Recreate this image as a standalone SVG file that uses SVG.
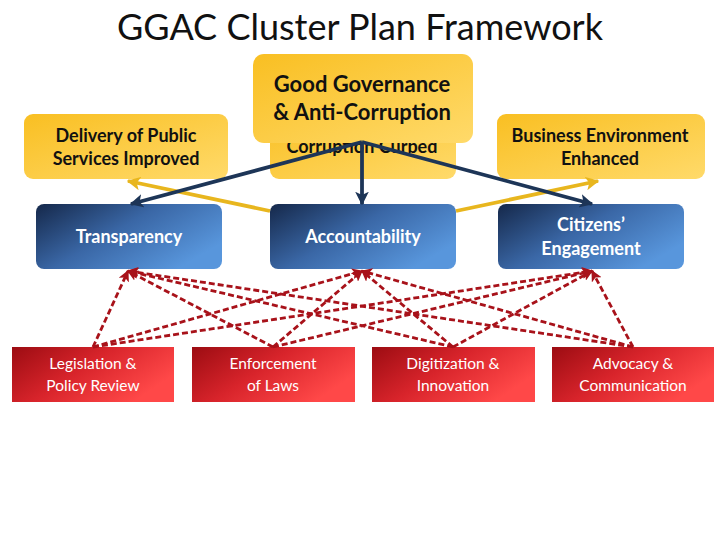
<svg xmlns="http://www.w3.org/2000/svg" width="720" height="540" viewBox="0 0 720 540">
<defs>
<linearGradient id="gy" x1="0" y1="0" x2="1" y2="1">
<stop offset="0" stop-color="#f9bf22"/>
<stop offset="1" stop-color="#ffda6a"/>
</linearGradient>
<linearGradient id="gb" x1="0" y1="0" x2="1" y2="0.6">
<stop offset="0" stop-color="#15284a"/>
<stop offset="0.5" stop-color="#3a67a6"/>
<stop offset="1" stop-color="#5896dc"/>
</linearGradient>
<linearGradient id="gr" x1="0" y1="0" x2="1" y2="0.5">
<stop offset="0" stop-color="#9c0c12"/>
<stop offset="0.5" stop-color="#d8242b"/>
<stop offset="1" stop-color="#ff4848"/>
</linearGradient>
<marker id="an" viewBox="0 0 10 10" refX="9" refY="5" markerWidth="3.6" markerHeight="3.6" orient="auto" markerUnits="strokeWidth">
<path d="M0,0 L10,5 L0,10 L2.5,5 z" fill="#1d3557"/>
</marker>
<marker id="ay" viewBox="0 0 10 10" refX="9" refY="5" markerWidth="3.6" markerHeight="3.6" orient="auto" markerUnits="strokeWidth">
<path d="M0,0 L10,5 L0,10 L2.5,5 z" fill="#e8b61e"/>
</marker>
<marker id="ar" viewBox="0 0 10 10" refX="9" refY="5" markerWidth="4" markerHeight="4" orient="auto" markerUnits="strokeWidth">
<path d="M0,0 L10,5 L0,10 L2.5,5 z" fill="#a8121a"/>
</marker>
</defs>
<style>
text{font-family:Lato,"Liberation Sans",sans-serif;text-anchor:middle}
.title{font-size:36px;fill:#111}
.yt{font-size:18px;font-weight:bold;fill:#111}
.gt{font-size:22px;font-weight:bold;fill:#111}
.bt{font-size:18px;font-weight:bold;fill:#fff}
.rt{font-size:15.5px;fill:#fff}
.ybox{fill:url(#gy)}
.bbox{fill:url(#gb)}
.rbox{fill:url(#gr)}
.navy{stroke:#1d3557;stroke-width:3.8;fill:none;marker-end:url(#an)}
.yel{stroke:#e8b61e;stroke-width:3.8;fill:none;marker-end:url(#ay)}
.red{stroke:#a8121a;stroke-width:2.8;fill:none;stroke-dasharray:6 3;marker-end:url(#ar)}
</style>
<rect width="720" height="540" fill="#fff"/>
<text class="title" x="360" y="40">GGAC Cluster Plan Framework</text>

<g id="node-delivery">
<rect class="ybox" x="24" y="114" width="204" height="65" rx="9"/>
<text class="yt" x="126" y="142">Delivery of Public</text>
<text class="yt" x="126" y="165">Services Improved</text>
</g>
<g id="node-business">
<rect class="ybox" x="497" y="114" width="208" height="65" rx="9"/>
<text class="yt" x="600" y="142">Business Environment</text>
<text class="yt" x="600" y="165">Enhanced</text>
</g>
<g id="node-corruption">
<rect class="ybox" x="270" y="110" width="186" height="69" rx="9"/>
<text class="yt" x="362" y="153">Corruption Curbed</text>
</g>
<g id="node-ggac">
<rect class="ybox" x="253" y="54" width="220" height="89" rx="11"/>
<text class="gt" x="362" y="92">Good Governance</text>
<text class="gt" x="362" y="120">&amp; Anti-Corruption</text>
</g>

<g id="node-transparency">
<rect class="bbox" x="36" y="204" width="186" height="65" rx="8"/>
<text class="bt" x="129" y="243">Transparency</text>
</g>
<g id="node-accountability">
<rect class="bbox" x="270" y="204" width="186" height="65" rx="8"/>
<text class="bt" x="363" y="243">Accountability</text>
</g>
<g id="node-citizens">
<rect class="bbox" x="498" y="204" width="186" height="65" rx="8"/>
<text class="bt" x="591" y="231">Citizens’</text>
<text class="bt" x="591" y="255">Engagement</text>
</g>

<g id="node-legislation">
<rect class="rbox" x="12" y="347" width="162" height="55"/>
<text class="rt" x="93" y="369">Legislation &amp;</text>
<text class="rt" x="93" y="391">Policy Review</text>
</g>
<g id="node-enforcement">
<rect class="rbox" x="192" y="347" width="163" height="55"/>
<text class="rt" x="273" y="369">Enforcement</text>
<text class="rt" x="273" y="391">of Laws</text>
</g>
<g id="node-digitization">
<rect class="rbox" x="372" y="347" width="163" height="55"/>
<text class="rt" x="453" y="369">Digitization &amp;</text>
<text class="rt" x="453" y="391">Innovation</text>
</g>
<g id="node-advocacy">
<rect class="rbox" x="552" y="347" width="162" height="55"/>
<text class="rt" x="633" y="369">Advocacy &amp;</text>
<text class="rt" x="633" y="391">Communication</text>
</g>

<g id="connectors">
<line class="yel" x1="270" y1="211" x2="128" y2="181"/>
<line class="yel" x1="456" y1="211" x2="598" y2="181"/>
<line class="navy" x1="362" y1="142" x2="131" y2="204"/>
<line class="navy" x1="362" y1="142" x2="362" y2="204"/>
<line class="navy" x1="362" y1="142" x2="592" y2="204"/>
<line class="red" x1="93" y1="347" x2="128" y2="271"/>
<line class="red" x1="93" y1="347" x2="362" y2="271"/>
<line class="red" x1="93" y1="347" x2="592" y2="271"/>
<line class="red" x1="273" y1="347" x2="128" y2="271"/>
<line class="red" x1="273" y1="347" x2="362" y2="271"/>
<line class="red" x1="273" y1="347" x2="592" y2="271"/>
<line class="red" x1="453" y1="347" x2="128" y2="271"/>
<line class="red" x1="453" y1="347" x2="362" y2="271"/>
<line class="red" x1="453" y1="347" x2="592" y2="271"/>
<line class="red" x1="633" y1="347" x2="128" y2="271"/>
<line class="red" x1="633" y1="347" x2="362" y2="271"/>
<line class="red" x1="633" y1="347" x2="592" y2="271"/>
</g>
</svg>
